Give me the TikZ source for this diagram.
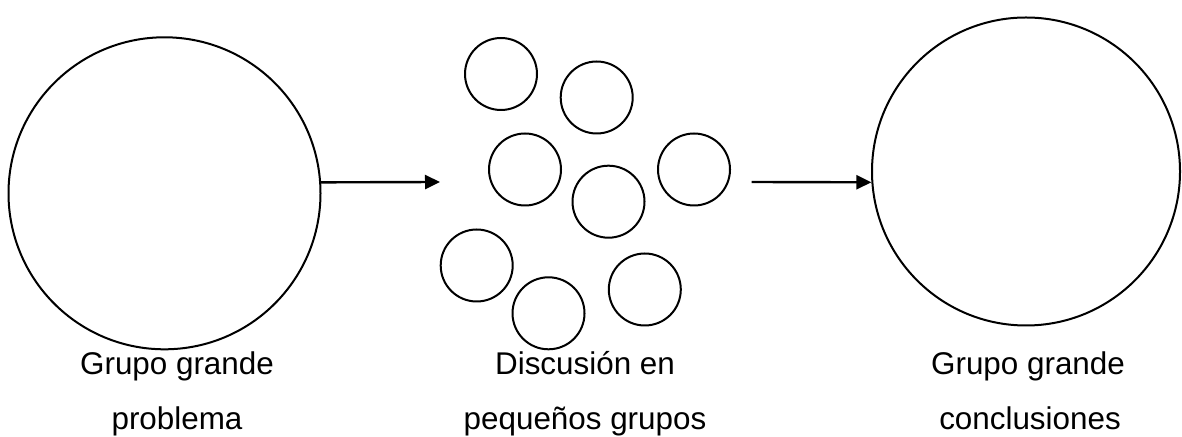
\documentclass[tikz,border=0pt]{standalone}
\usepackage{fontspec}
\setmainfont{Liberation Sans}
\usetikzlibrary{arrows.meta}
\tikzset{
	grupo/.style={draw, circle, line width=1pt, inner sep=0pt, minimum size=#1},
	flecha/.style={line width=1.2pt, -{Triangle[length=7.5pt, width=7pt]}},
	rotulo/.style={align=center, font=\fontsize{15.7pt}{27.5pt}\selectfont, anchor=base}
}
\begin{document}
\begin{tikzpicture}[x=0.5pt, y=-0.5pt]
			%%%%% START %%%%%
			\useasboundingbox (0, 0) rectangle (1182, 437);
			
			\node[grupo=156pt] (grande1) at (164.5, 193.3) {};
			\node[grupo=154pt] (grande2) at (1026, 171.5) {};
			
			\node[grupo=36pt] (peq1) at (501, 74) {};
			\node[grupo=36pt] (peq2) at (596.7, 97.5) {};
			\node[grupo=36pt] (peq3) at (525, 169.5) {};
			\node[grupo=36pt] (peq4) at (608.5, 201.7) {};
			\node[grupo=36pt] (peq5) at (694, 169.5) {};
			\node[grupo=36pt] (peq6) at (476.7, 265.5) {};
			\node[grupo=36pt] (peq7) at (548.5, 313.3) {};
			\node[grupo=36pt] (peq8) at (644.8, 289.5) {};
			
			\coordinate (llega) at (440, 182);
			\coordinate (sale) at (751.7, 182);
			\draw[flecha] (grande1.4) -- (llega);
			\draw[flecha] (sale) -- (grande2.184);
			
			\node[rotulo] (txt1) at (177, 375) {Grupo grande};
			\node[rotulo] (txt1b) at (177, 430) {problema};
			\node[rotulo] (txt2) at (585, 375) {Discusión en};
			\node[rotulo] (txt2b) at (585, 430) {pequeños grupos};
			\node[rotulo] (txt3) at (1028, 375) {Grupo grande};
			\node[rotulo] (txt3b) at (1030, 430) {conclusiones};
			%%%%% END %%%%%
\end{tikzpicture}
\end{document}
